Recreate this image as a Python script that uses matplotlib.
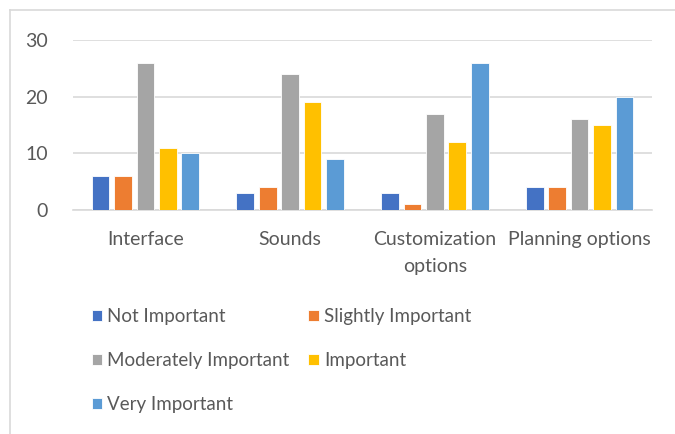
from matplotlib import pyplot as plt
from matplotlib.lines import Line2D
import numpy as np

plt.rcParams['font.family'] = ['Lato', 'DejaVu Sans']

categories = ["Interface", "Sounds", "Customization\noptions", "Planning options"]
series_names = ["Not Important", "Slightly Important", "Moderately Important",
                "Important", "Very Important"]
not_important = [6, 3, 3, 4]
slightly_important = [6, 4, 1, 4]
moderately_important = [26, 24, 17, 16]
important = [11, 19, 12, 15]
very_important = [10, 9, 26, 20]
colors = ["#4472C4", "#ED7D31", "#A5A5A5", "#FFC000", "#5B9BD5"]

all_series = [not_important, slightly_important, moderately_important,
              important, very_important]

fig = plt.figure(figsize=(6.75, 4.34), dpi=100)
ax = fig.add_axes([73 / 675, 1 - 210 / 434, 579 / 675, 170 / 434])

x = np.arange(len(categories))
step = 0.155
width = 0.122
handles = []
for i, (vals, name, c) in enumerate(zip(all_series, series_names, colors)):
    b = ax.bar(x + (i - 2) * step, vals, width=width, color=c, label=name,
               edgecolor="white", linewidth=0.6, zorder=3)
    handles.append(b)

ax.set_xlim(-0.5, 3.5)
ax.set_ylim(0, 30)
ax.set_yticks([0, 10, 20, 30])
ax.set_xticks(x)
ax.set_xticklabels(categories, linespacing=1.7)
ax.grid(axis="y", color="#D9D9D9", linewidth=1.2, zorder=0)
for s in ["top", "right", "left"]:
    ax.spines[s].set_visible(False)
ax.spines["bottom"].set_color("#D9D9D9")
ax.spines["bottom"].set_linewidth(1.2)
ax.tick_params(length=0, labelsize=14, labelcolor="#595959")
ax.tick_params(axis="y", pad=18)
ax.tick_params(axis="x", pad=15)

order = [0, 2, 4, 1, 3]
leg = fig.legend([handles[i] for i in order], [series_names[i] for i in order],
                 ncol=2, loc="upper left", bbox_to_anchor=(92 / 675, 1 - 308 / 434),
                 frameon=False, fontsize=13.5, labelcolor="#595959",
                 borderpad=0, borderaxespad=0,
                 handlelength=0.55, handleheight=0.55, handletextpad=0.27,
                 columnspacing=1.0, labelspacing=1.45)

# chart border
fig.add_artist(Line2D([9.5 / 675, 9.5 / 675], [0, 1 - 10 / 434],
                      color="#D9D9D9", linewidth=1.2))
fig.add_artist(Line2D([9.5 / 675, 1], [1 - 10 / 434, 1 - 10 / 434],
                      color="#D9D9D9", linewidth=1.2))

fig.savefig("out.png", dpi=100)
